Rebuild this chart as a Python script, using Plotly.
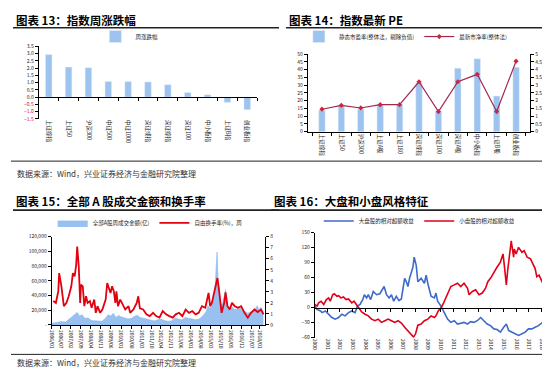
import plotly.graph_objects as go

W, H = 550, 369

# ---------------- data ----------------
c13_categories = ["上证综指", "上证50", "沪深300", "中证500", "中证1000", "深证成指",
                  "深证综指", "深证100", "中小板指", "上证B指", "创业板指"]
c13_change = [2.93, 2.07, 2.02, 1.07, 1.07, 1.05, 0.86, 0.32, 0.16, -0.36, -0.86]
c13_pos_ticks = [3.5, 3.0, 2.5, 2.0, 1.5, 1.0, 0.5, 0.0]
c13_neg_ticks = [-0.5, -1.0, -1.5]

c14_categories = ["上证综指", "上证50", "沪深300", "上证A股", "上证180", "深证成指",
                  "深证100", "深证A股", "中小板指", "上证B股", "创业板指"]
c14_pe = [13.8, 17.0, 14.5, 17.4, 17.4, 31.5, 13.2, 41.0, 47.0, 23.0, 41.5]
c14_pb = [1.45, 1.70, 1.53, 1.74, 1.74, 3.22, 1.30, 3.22, 3.70, 1.30, 4.55]
c14_left_ticks = [0, 5, 10, 15, 20, 25, 30, 35, 40, 45, 50]
c14_right_ticks = [0, 0.5, 1, 1.5, 2, 2.5, 3, 3.5, 4, 4.5, 5]

# weekly A-share amount (亿), time in decimal years
c15_amount_t = [2006.0, 2006.3, 2006.5, 2006.8, 2007.0, 2007.2, 2007.35, 2007.47, 2007.6, 2007.75,
                2007.9, 2008.1, 2008.3, 2008.5, 2008.7, 2008.9, 2009.1, 2009.25, 2009.4, 2009.55,
                2009.7, 2009.85, 2010.0, 2010.2, 2010.4, 2010.6, 2010.8, 2010.95, 2011.1, 2011.3,
                2011.5, 2011.7, 2011.9, 2012.1, 2012.3, 2012.5, 2012.7, 2012.9, 2013.1, 2013.3,
                2013.5, 2013.7, 2013.9, 2014.1, 2014.3, 2014.5, 2014.7, 2014.9, 2015.0, 2015.15,
                2015.3, 2015.42, 2015.48, 2015.53, 2015.58, 2015.65, 2015.75, 2015.85, 2015.95, 2016.02,
                2016.1, 2016.25, 2016.4, 2016.55, 2016.75, 2016.9, 2017.1, 2017.3, 2017.5, 2017.7,
                2017.85, 2017.95, 2018.05, 2018.2]
c15_amount = [2000, 3000, 4500, 4000, 8000, 12000, 15000, 17000, 12000, 14000,
              9000, 9500, 6000, 5500, 4500, 5000, 9000, 14000, 12000, 16000,
              10000, 13000, 11000, 9000, 8000, 9000, 12000, 13000, 10000, 9000,
              7500, 7000, 5500, 7000, 8000, 6000, 5000, 5500, 9500, 8000,
              7000, 10000, 9000, 8000, 7000, 8000, 12000, 18000, 26000, 22000,
              38000, 52000, 80000, 99000, 65000, 45000, 26000, 30000, 40000, 48000,
              25000, 22000, 24000, 21000, 22000, 23000, 19000, 16000, 18000, 21000,
              26000, 20000, 24000, 18000]

# free-float turnover (%), weekly
c15_turn_t = [2006.09, 2006.24, 2006.38, 2006.43, 2006.56, 2006.7, 2006.85, 2006.98, 2007.13, 2007.22,
              2007.32, 2007.41, 2007.47, 2007.56, 2007.64, 2007.69, 2007.79, 2007.88, 2007.98, 2008.07,
              2008.2, 2008.3, 2008.45, 2008.54, 2008.64, 2008.79, 2008.92, 2009.11, 2009.2, 2009.3,
              2009.39, 2009.48, 2009.58, 2009.67, 2009.73, 2009.82, 2009.95, 2010.14, 2010.24, 2010.43,
              2010.52, 2010.71, 2010.9, 2010.99, 2011.08, 2011.27, 2011.46, 2011.65, 2011.84, 2012.02,
              2012.21, 2012.4, 2012.59, 2012.78, 2012.97, 2013.15, 2013.34, 2013.53, 2013.72, 2013.91,
              2014.1, 2014.29, 2014.47, 2014.66, 2014.85, 2015.04, 2015.13, 2015.23, 2015.42, 2015.55,
              2015.64, 2015.79, 2015.94, 2016.02, 2016.13, 2016.26, 2016.39, 2016.55, 2016.73, 2016.92,
              2017.11, 2017.3, 2017.49, 2017.68, 2017.87, 2018.06, 2018.21]
c15_turn = [2.16, 2.0, 3.05, 4.7, 3.5, 1.7, 2.0, 2.6, 3.5, 4.7,
            4.4, 5.45, 7.1, 5.3, 2.0, 3.65, 3.5, 1.7, 2.6, 2.0,
            2.16, 1.56, 2.3, 1.1, 1.7, 1.1, 1.4, 2.3, 3.8, 3.35,
            2.9, 3.5, 3.05, 2.0, 3.05, 1.7, 2.3, 1.7, 1.4, 1.7,
            1.1, 1.4, 2.0, 2.6, 1.5, 1.4, 0.96, 0.8, 1.1, 0.8,
            0.66, 1.26, 0.96, 0.8, 0.66, 0.96, 1.1, 0.8, 1.4, 1.1,
            1.26, 0.96, 1.1, 1.7, 1.56, 2.9, 1.7, 2.0, 3.35, 4.25,
            3.2, 1.1, 2.0, 2.96, 1.7, 1.4, 2.0, 1.7, 1.56, 1.7,
            1.1, 0.66, 1.1, 1.4, 1.17, 1.4, 0.96]
c15_tick_labels = ["2006/01", "2006/07", "2007/02", "2007/09", "2008/04", "2008/11", "2009/06",
                   "2010/01", "2010/08", "2011/03", "2011/10", "2012/04", "2012/11", "2013/06",
                   "2014/01", "2014/08", "2015/03", "2015/10", "2016/05", "2016/12", "2017/07",
                   "2018/01"]
c15_left_ticks = [0, 20000, 40000, 60000, 80000, 100000, 120000]
c15_left_labels = ["-", "20,000", "40,000", "60,000", "80,000", "100,000", "120,000"]
c15_right_ticks = [0, 1, 2, 3, 4, 5, 6, 7, 8]

# relative excess return (%) of big caps / small caps
c16_big_t = [2000.0, 2000.18, 2000.45, 2000.58, 2000.84, 2001.1, 2001.36, 2001.63, 2001.89, 2002.15,
             2002.41, 2002.68, 2002.94, 2003.2, 2003.39, 2003.6, 2003.81, 2003.94, 2004.12, 2004.25,
             2004.44, 2004.65, 2004.91, 2005.17, 2005.38, 2005.51, 2005.7, 2005.91, 2006.09, 2006.27,
             2006.48, 2006.69, 2006.88, 2007.01, 2007.14, 2007.27, 2007.4, 2007.53, 2007.66, 2007.8,
             2007.9, 2008.06, 2008.19, 2008.45, 2008.71, 2008.85, 2008.98, 2009.11, 2009.24, 2009.5,
             2009.63, 2009.76, 2010.03, 2010.29, 2010.55, 2010.81, 2011.08, 2011.34, 2011.6, 2011.86,
             2012.13, 2012.39, 2012.65, 2012.91, 2013.18, 2013.44, 2013.7, 2013.96, 2014.23, 2014.49,
             2014.75, 2015.01, 2015.22, 2015.41, 2015.67, 2015.93, 2016.19, 2016.46, 2016.72, 2016.98,
             2017.24, 2017.51, 2017.77, 2018.03, 2018.24]
c16_big = [3.3, -3.3, -6.5, -9.8, -6.5, -13, -19.6, -22.8, -19.6, -13,
           -16.3, -9.8, -6.5, -9.8, 3.3, 6.5, 16.3, 26, 19.6, 26,
           16.3, 32.6, 26, 28, 35.9, 42.4, 26, 19.6, 26, 13,
           22.8, 14.3, 17.6, 35.9, 58.7, 52.2, 42.4, 58.7, 71.7, 81.5,
           101, 84.8, 52, 58.7, 48.9, 65.2, 48.9, 35.9, 22.8, 19.6,
           29.3, 13, 3.3, -9.8, -22.8, -29.3, -26, -32.6, -30.7, -29.3,
           -32.6, -28, -29.3, -26, -19.6, -26, -32.6, -35.9, -42.4, -43.7,
           -48.9, -39.1, -32.6, -45.7, -48.9, -52.2, -55.4, -52.2, -48.9, -42.4,
           -42.4, -39.1, -35.9, -30.7, -26]
c16_small_t = [2000.0, 2000.18, 2000.31, 2000.5, 2000.71, 2000.92, 2001.1, 2001.23, 2001.42, 2001.55,
               2001.76, 2001.89, 2002.07, 2002.28, 2002.49, 2002.68, 2002.94, 2003.12, 2003.39, 2003.55,
               2003.73, 2004.0, 2004.25, 2004.51, 2004.78, 2005.04, 2005.3, 2005.57, 2005.83, 2006.09,
               2006.35, 2006.62, 2006.88, 2007.14, 2007.4, 2007.66, 2007.85, 2008.01, 2008.19, 2008.45,
               2008.71, 2008.98, 2009.24, 2009.5, 2009.63, 2009.81, 2010.03, 2010.24, 2010.42, 2010.6,
               2010.81, 2011.08, 2011.34, 2011.6, 2011.86, 2012.13, 2012.26, 2012.52, 2012.78, 2013.05,
               2013.31, 2013.57, 2013.75, 2013.96, 2014.23, 2014.49, 2014.75, 2014.96, 2015.06, 2015.22,
               2015.33, 2015.48, 2015.61, 2015.8, 2015.85, 2016.0, 2016.19, 2016.46, 2016.64, 2016.88,
               2017.14, 2017.51, 2017.64, 2017.82, 2018.03, 2018.24]
c16_small = [6.5, 3.3, 9.8, 13, 6.5, 16.3, 19.6, 13, 26, 28,
             22.8, 24.1, 19.6, 21.5, 16.3, 17.6, 9.8, 13, 3.3, -3.3,
             -8.5, -13, -16.3, -22.8, -26, -22.8, -29.3, -26, -22.8, -26,
             -29.3, -26, -30.7, -39.1, -45.7, -52.2, -58.7, -52.2, -35, -32.6,
             -26, -22.8, -16.3, -19.6, -16.3, -6.5, 0, 9.8, 19.6, 32.6,
             42.4, 45.7, 48.9, 42.4, 48.9, 39.1, 26, 32.6, 35.9, 26,
             29.3, 39.1, 52.2, 58.7, 71.7, 81.5, 91.3, 107.6, 84.8, 45.7,
             75, 107.6, 133.7, 101, 117.4, 107.6, 120.7, 110.9, 114.1, 101,
             97.8, 78.3, 62, 65.2, 52.2, 42.4, 39.1]
c16_ticks = [-60, -30, 0, 30, 60, 90, 120, 150]
c16_years = list(range(2000, 2019))

# ---------------- layout helpers ----------------
def dx(a, b):
    return [a / W, b / W]

def dy(top, bottom):
    return [1 - bottom / H, 1 - top / H]

def label_to_year(s):
    y, m = s.split("/")
    return int(y) + (int(m) - 1) / 12

FONT = "Noto Sans CJK SC"
TICK = dict(family=FONT, size=5, color="#222")
BLUE_BAR = "#9DC3EF"

fig = go.Figure()

# ---- chart 13 ----
fig.add_trace(go.Bar(x=c13_categories, y=c13_change, name="周涨跌幅", marker_color=BLUE_BAR,
                     width=0.33, xaxis="x", yaxis="y", legend="legend"))
fig.add_trace(go.Scatter(x=[], y=[], xaxis="x2", yaxis="y", showlegend=False))
fig.add_trace(go.Scatter(x=[], y=[], xaxis="x", yaxis="y2", showlegend=False))

c13_dom_y = dy(35, 109)
c13_rng = [min(c13_neg_ticks), max(c13_pos_ticks)]
c13_zero_pos = c13_dom_y[0] + (0 - c13_rng[0]) / (c13_rng[1] - c13_rng[0]) * (c13_dom_y[1] - c13_dom_y[0])
n13 = len(c13_categories)

# ---- chart 14 ----
fig.add_trace(go.Bar(x=c14_categories, y=c14_pe, name="静态市盈率(整体法，剔除负值)",
                     marker_color=BLUE_BAR, width=0.33, xaxis="x3", yaxis="y3", legend="legend2"))
fig.add_trace(go.Scatter(x=c14_categories, y=c14_pb, name="最新市净率(整体法)", mode="lines+markers",
                         line=dict(color="#A3284F", width=1.2),
                         marker=dict(color="#D0243E", size=4, symbol="diamond"),
                         xaxis="x3", yaxis="y4", legend="legend2"))

# ---- chart 15 ----
fig.add_trace(go.Scatter(x=c15_amount_t, y=c15_amount, name="全部A股周成交金额(亿)", mode="lines",
                         fill="tozeroy", line=dict(color="#8DB9EE", width=0.6),
                         fillcolor="rgba(141,185,238,0.9)", xaxis="x4", yaxis="y5", legend="legend3"))
fig.add_trace(go.Scatter(x=c15_turn_t, y=c15_turn, name="自由换手率(%)，周", mode="lines",
                         line=dict(color="#E3000F", width=1.8),
                         xaxis="x4", yaxis="y6", legend="legend3"))

# ---- chart 16 ----
fig.add_trace(go.Scatter(x=c16_big_t, y=c16_big, name="大盘股的相对超额收益", mode="lines",
                         line=dict(color="#3E6AC8", width=1.6), xaxis="x5", yaxis="y7", legend="legend4"))
fig.add_trace(go.Scatter(x=c16_small_t, y=c16_small, name="小盘股的相对超额收益", mode="lines",
                         line=dict(color="#E0001A", width=1.6), xaxis="x5", yaxis="y7", legend="legend4"))
fig.add_trace(go.Scatter(x=[], y=[], xaxis="x6", yaxis="y7", showlegend=False))

c16_dom_y = dy(225, 332)
c16_rng = [min(c16_ticks), max(c16_ticks)]
c16_zero_pos = c16_dom_y[0] + (0 - c16_rng[0]) / (c16_rng[1] - c16_rng[0]) * (c16_dom_y[1] - c16_dom_y[0])

axis_common = dict(showgrid=False, zeroline=False, tickfont=TICK, linecolor="#000", linewidth=1,
                   tickcolor="#000", ticklen=3, tickwidth=1)

LEG_FONT = dict(family=FONT, size=5.5, color="#222")

fig.update_layout(
    width=W, height=H, margin=dict(l=0, r=0, t=0, b=0),
    paper_bgcolor="white", plot_bgcolor="rgba(0,0,0,0)",
    font=dict(family=FONT, size=6, color="#222"),
    # chart 13
    xaxis=dict(domain=dx(28, 248), anchor="y", type="category", categoryorder="array",
               categoryarray=c13_categories, showline=False, ticks="", tickangle=90,
               showgrid=False, zeroline=False, tickfont=dict(family=FONT, size=5.5, color="#222")),
    xaxis2=dict(overlaying="x", anchor="free", position=c13_zero_pos, type="linear",
                range=[-0.5, n13 - 0.5], tickvals=[i - 0.5 for i in range(n13 + 1)],
                showticklabels=False, showline=True, ticks="outside", **axis_common),
    yaxis=dict(domain=c13_dom_y, anchor="x", range=c13_rng, tickvals=c13_pos_ticks, tickformat=".1f",
               showline=True, ticks="outside", **axis_common),
    yaxis2=dict(overlaying="y", anchor="x", range=c13_rng, tickvals=c13_neg_ticks, tickformat=".1f",
                showline=False, ticks="outside", showgrid=False, zeroline=False,
                tickfont=dict(family=FONT, size=5, color="#E0001A"), tickcolor="#000", ticklen=3),
    # chart 14
    xaxis3=dict(domain=dx(299, 523), anchor="y3", type="category", showline=True, ticks="outside",
                tickson="boundaries", tickangle=90,
                **{**axis_common, "tickfont": dict(family=FONT, size=5.5, color="#222")}),
    yaxis3=dict(domain=dy(43, 122), anchor="x3", range=[0, 50], tickvals=c14_left_ticks,
                showline=True, ticks="outside", **axis_common),
    yaxis4=dict(overlaying="y3", anchor="x3", side="right", range=[0, 5], tickvals=c14_right_ticks,
                showline=True, ticks="outside", **axis_common),
    # chart 15
    xaxis4=dict(domain=dx(41, 256), anchor="y5", range=[2006.0, 2018.3],
                tickvals=[label_to_year(s) for s in c15_tick_labels],
                ticktext=c15_tick_labels, tickangle=90, showline=True, ticks="outside", **axis_common),
    yaxis5=dict(domain=dy(229, 319), anchor="x4", range=[0, 120000], tickvals=c15_left_ticks,
                ticktext=c15_left_labels, showline=True, ticks="outside", **axis_common),
    yaxis6=dict(overlaying="y5", anchor="x4", side="right", range=[0, 8], tickvals=c15_right_ticks,
                showline=True, ticks="outside", **axis_common),
    # chart 16
    xaxis5=dict(domain=dx(306, 538), anchor="y7", range=[2000.0, 2018.3], tickvals=c16_years,
                ticktext=[str(y) for y in c16_years], tickangle=90, showline=False, ticks="",
                showgrid=False, zeroline=False, tickfont=TICK),
    xaxis6=dict(overlaying="x5", anchor="free", position=c16_zero_pos, range=[2000.0, 2018.3],
                tickvals=c16_years, showticklabels=False, showline=True, ticks="outside", **axis_common),
    yaxis7=dict(domain=c16_dom_y, anchor="x5", range=c16_rng, tickvals=c16_ticks, ticksuffix="%",
                showline=True, ticks="outside", **axis_common),
    showlegend=True,
    legend=dict(x=85 / W, y=1 - 25 / H, xanchor="left", yanchor="middle", orientation="h",
                font=LEG_FONT, bgcolor="rgba(0,0,0,0)", itemwidth=30),
    legend2=dict(x=290 / W, y=1 - 25 / H, xanchor="left", yanchor="middle", orientation="h",
                 font=LEG_FONT, bgcolor="rgba(0,0,0,0)", itemwidth=30),
    legend3=dict(x=42 / W, y=1 - 215 / H, xanchor="left", yanchor="middle", orientation="h",
                 font=LEG_FONT, bgcolor="rgba(0,0,0,0)", itemwidth=30),
    legend4=dict(x=310 / W, y=1 - 213 / H, xanchor="left", yanchor="middle", orientation="h",
                 font=LEG_FONT, bgcolor="rgba(0,0,0,0)", itemwidth=30),
)

# titles, rules and source notes
TITLE_FONT = dict(family=FONT, size=11.5, color="#000")
titles = [("图表 13：指数周涨跌幅", 3, 8), ("图表 14：指数最新 PE", 278, 8),
          ("图表 15：全部 A 股成交金额和换手率", 3, 193), ("图表 16：大盘和小盘风格特征", 263, 193)]
for text, x, y in titles:
    fig.add_annotation(text="<b>" + text + "</b>", x=x / W, y=1 - y / H, xref="paper", yref="paper",
                       xanchor="left", yanchor="middle", showarrow=False, font=TITLE_FONT)

for y in (165, 357):
    fig.add_annotation(text="数据来源：Wind，兴业证券经济与金融研究院整理", x=4 / W, y=1 - y / H,
                       xref="paper", yref="paper", xanchor="left", yanchor="middle", showarrow=False,
                       font=dict(family=FONT, size=8, color="#333"))

rules = [(2, 270, 16, 1.6), (277, 548, 16, 1.6), (2, 270, 202, 1.6), (262, 548, 202, 1.6),
         (0, 550, 152, 1), (0, 550, 349, 1)]
for x0, x1, y, w in rules:
    fig.add_shape(type="line", xref="paper", yref="paper", x0=x0 / W, x1=x1 / W,
                  y0=1 - y / H, y1=1 - y / H, line=dict(color="#222", width=w))

fig.write_html("out.html")
